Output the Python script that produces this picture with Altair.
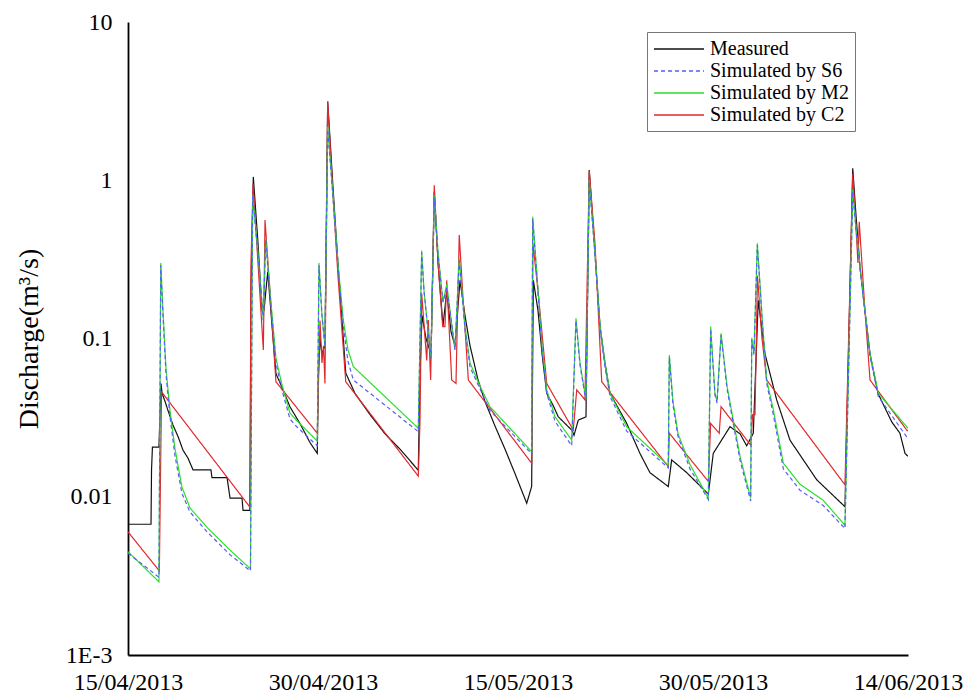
import altair as alt
import pandas as pd

START = "2013-04-15"

series_names = ["Measured", "Simulated by S6", "Simulated by M2", "Simulated by C2"]
series_colors = ["#111111", "#5a5aff", "#2adf2a", "#e0282d"]

measured_day = [0, 1.77, 1.81, 1.88, 2.38, 2.54, 2.62, 2.85, 3.08, 3.46, 3.85, 4.23, 4.62, 5.0,
                6.38, 6.46, 7.62, 7.85, 8.77, 8.85, 9.38, 9.46, 9.64, 10.0, 10.31, 10.46, 10.75,
                11.08, 11.38, 11.82, 12.46, 13.23, 14.0, 14.56, 14.65, 14.77, 14.92, 15.15, 15.36,
                15.77, 16.15, 16.75, 17.46, 18.62, 19.77, 20.92, 22.33, 22.46, 22.62, 22.92, 23.31,
                23.56, 23.85, 24.23, 24.52, 24.85, 25.15, 25.54, 25.92, 26.31, 26.92, 27.46, 28.23,
                29.0, 29.77, 30.67, 31.05, 31.18, 31.54, 31.85, 32.21, 32.72, 33.1, 34.13, 34.31,
                34.64, 35.23, 35.48, 35.92, 36.31, 36.69, 37.08, 38.36, 39.38, 40.15, 41.56, 41.82,
                42.98, 44.64, 45.02, 45.54, 46.31, 47.08, 47.59, 48.1, 48.48, 49.0, 49.9, 50.92,
                52.98, 55.15, 55.75, 56.0, 56.31, 56.69, 57.08, 57.69, 58.75, 59.38, 59.77, 60.0]
measured_q = [0.0067, 0.0067, 0.0148, 0.0206, 0.0206, 0.052, 0.045, 0.04, 0.035, 0.0284, 0.024,
              0.0197, 0.0175, 0.0148, 0.0148, 0.0132, 0.0132, 0.0098, 0.0098, 0.0082, 0.0082, 0.2,
              1.05, 0.4, 0.15, 0.15, 0.264, 0.12, 0.06, 0.0497, 0.037, 0.029, 0.022, 0.0188, 0.06,
              0.1, 0.08, 0.09, 3.15, 0.9, 0.3, 0.0605, 0.045, 0.033, 0.025, 0.02, 0.0147, 0.06,
              0.14, 0.1, 0.08, 0.85, 0.3, 0.12, 0.2, 0.11, 0.09, 0.233, 0.14, 0.09, 0.055, 0.04,
              0.028, 0.02, 0.014, 0.0091, 0.0116, 0.233, 0.15, 0.08, 0.045, 0.0375, 0.032, 0.0264,
              0.0245, 0.0305, 0.032, 1.16, 0.35, 0.12, 0.07, 0.045, 0.0291, 0.0188, 0.0142, 0.0116,
              0.0171, 0.0142, 0.0104, 0.0188, 0.022, 0.0277, 0.025, 0.021, 0.0252, 0.174, 0.08,
              0.0409, 0.0228, 0.0128, 0.00865, 1.19, 0.6, 0.28, 0.15, 0.08, 0.045, 0.0297, 0.0252,
              0.0188, 0.018]

m2_day = [0, 2.38, 2.52, 2.69, 2.92, 3.23, 3.62, 4.15, 4.77, 6.08, 7.85, 9.42, 9.59, 10.0, 10.41,
          10.59, 10.92, 11.38, 11.82, 12.46, 12.98, 14.56, 14.69, 14.92, 15.15, 15.36, 15.77, 16.15,
          16.56, 16.92, 17.33, 22.33, 22.59, 22.77, 23.0, 23.31, 23.56, 23.85, 24.23, 24.52, 24.77,
          25.15, 25.48, 25.92, 26.31, 27.08, 27.85, 31.05, 31.13, 31.46, 31.85, 32.21, 32.85, 34.13,
          34.46, 34.77, 35.23, 35.48, 35.92, 36.31, 36.69, 37.08, 38.36, 41.56, 41.64, 41.92, 42.31,
          43.23, 44.64, 44.82, 45.15, 45.31, 45.62, 46.08, 46.56, 47.08, 47.9, 47.98, 48.15, 48.41,
          48.77, 49.13, 49.64, 50.41, 51.69, 53.48, 55.15, 55.75, 56.0, 56.31, 56.69, 57.08, 57.72,
          59.9, 60.0]
m2_q = [0.0045, 0.0029, 0.30, 0.15, 0.065, 0.035, 0.02, 0.0115, 0.0085, 0.0064, 0.0046, 0.0035,
        0.81, 0.35, 0.131, 0.43, 0.2, 0.075, 0.052, 0.0338, 0.0303, 0.0225, 0.30, 0.14, 0.089, 2.18,
        0.8, 0.3, 0.131, 0.085, 0.0664, 0.0271, 0.36, 0.2, 0.13, 0.075, 0.8, 0.35, 0.17, 0.22, 0.15,
        0.085, 0.32, 0.12, 0.07, 0.05, 0.037, 0.0193, 0.589, 0.25, 0.09, 0.0474, 0.032, 0.0228,
        0.134, 0.07, 0.041, 1.0, 0.35, 0.12, 0.07, 0.045, 0.0277, 0.0158, 0.0787, 0.04, 0.025,
        0.016, 0.0098, 0.119, 0.045, 0.04, 0.108, 0.05, 0.0305, 0.018, 0.0098, 0.101, 0.081, 0.40,
        0.14, 0.0547, 0.0355, 0.0163, 0.012, 0.0095, 0.0066, 0.87, 0.5, 0.284, 0.15, 0.08, 0.045,
        0.0277, 0.027]

s6_day = m2_day
s6_q = [0.0044, 0.0031, 0.29, 0.14, 0.06, 0.032, 0.018, 0.0105, 0.008, 0.006, 0.0043, 0.0034,
        0.80, 0.34, 0.13, 0.42, 0.19, 0.07, 0.048, 0.031, 0.0277, 0.021, 0.29, 0.14, 0.089, 2.1,
        0.78, 0.28, 0.12, 0.072, 0.0547, 0.0258, 0.35, 0.2, 0.13, 0.075, 0.78, 0.34, 0.17, 0.21,
        0.15, 0.085, 0.31, 0.115, 0.066, 0.048, 0.035, 0.0187, 0.57, 0.24, 0.085, 0.045, 0.030,
        0.021, 0.13, 0.068, 0.04, 0.98, 0.34, 0.115, 0.066, 0.043, 0.026, 0.0152, 0.076, 0.038,
        0.024, 0.015, 0.0096, 0.115, 0.044, 0.039, 0.105, 0.048, 0.029, 0.017, 0.0094, 0.098,
        0.079, 0.39, 0.135, 0.052, 0.033, 0.015, 0.011, 0.0088, 0.0063, 0.85, 0.49, 0.28, 0.145,
        0.077, 0.043, 0.0239, 0.0235]

c2_day = [0, 2.41, 2.58, 9.38, 9.46, 9.62, 10.0, 10.41, 10.54, 10.92, 11.38, 14.56, 14.77, 14.92,
          15.04, 15.15, 15.36, 15.77, 16.15, 16.75, 22.33, 22.46, 22.59, 22.98, 23.1, 23.28, 23.56,
          23.85, 24.21, 24.38, 24.52, 24.9, 25.23, 25.48, 25.77, 26.18, 31.05, 31.15, 31.54, 32.21,
          34.25, 34.52, 35.15, 35.48, 35.92, 36.44, 41.56, 41.64, 44.64, 44.82, 45.48, 45.62, 47.9,
          48.05, 48.23, 48.42, 48.77, 49.13, 55.15, 55.75, 56.0, 56.15, 56.25, 56.69, 57.08, 59.9,
          60.0]
c2_q = [0.006, 0.0034, 0.046, 0.0086, 0.3, 0.95, 0.3, 0.0845, 0.56, 0.2, 0.0533, 0.0252, 0.13,
        0.07, 0.09, 0.052, 3.13, 0.8, 0.25, 0.0533, 0.0135, 0.03, 0.193, 0.0726, 0.131, 0.0547,
        0.93, 0.3, 0.119, 0.119, 0.233, 0.0547, 0.052, 0.45, 0.18, 0.0547, 0.0163, 0.4, 0.2, 0.052,
        0.0264, 0.0474, 0.041, 1.15, 0.4, 0.0533, 0.0155, 0.0252, 0.0125, 0.0291, 0.0252, 0.0371,
        0.0212, 0.033, 0.033, 0.25, 0.1, 0.0547, 0.0119, 1.1, 0.5, 0.3, 0.547, 0.15, 0.0547,
        0.0264, 0.026]

y_major = [0.001, 0.01, 0.1, 1, 10]

W, H = 780, 633
FONT = "Liberation Serif"
Y_TITLE = "Discharge(m³/s)"


def frame(days, q, name):
    t = pd.Timestamp(START) + pd.to_timedelta(days, unit="D")
    return pd.DataFrame({"date": t.strftime("%Y-%m-%dT%H:%M:%S"), "q": q, "series": name})


df = pd.concat([
    frame(measured_day, measured_q, "Measured"),
    frame(c2_day, c2_q, "Simulated by C2"),
    frame(m2_day, m2_q, "Simulated by M2"),
    frame(s6_day, s6_q, "Simulated by S6"),
], ignore_index=True)

x_scale = alt.Scale(domain=[alt.DateTime(year=2013, month=4, date=15),
                            alt.DateTime(year=2013, month=6, date=14)], nice=False)
y_scale = alt.Scale(type="log", domain=[0.001, 10], nice=False)
x_dt = [alt.DateTime(year=2013, month=4, date=15), alt.DateTime(year=2013, month=4, date=30),
        alt.DateTime(year=2013, month=5, date=15), alt.DateTime(year=2013, month=5, date=30),
        alt.DateTime(year=2013, month=6, date=14)]

x_axis = alt.Axis(values=x_dt, format="%d/%m/%Y", labelPadding=15, labelFlush=False,
                  grid=False, ticks=False)
y_axis = alt.Axis(values=y_major, grid=False, labelPadding=16, titlePadding=22, ticks=False,
                  labelExpr="datum.value < 0.005 ? '1E-3' : datum.value < 0.05 ? '0.01' : datum.value < 0.5 ? '0.1' : datum.value < 5 ? '1' : '10'")

chart = alt.Chart(df).mark_line(strokeWidth=1.2, clip=True).encode(
    x=alt.X("date:T", scale=x_scale, title=None, axis=x_axis),
    y=alt.Y("q:Q", scale=y_scale, title=Y_TITLE, axis=y_axis),
    color=alt.Color("series:N", scale=alt.Scale(domain=series_names, range=series_colors),
                    legend=alt.Legend(title=None)),
    strokeDash=alt.StrokeDash("series:N", scale=alt.Scale(domain=series_names,
                                                          range=[[1, 0], [4, 3], [1, 0], [1, 0]]),
                              legend=alt.Legend(title=None)),
).properties(
    width=W, height=H, padding={"left": 7, "top": 2, "right": 5, "bottom": 0}
).configure_view(stroke=None).configure_axis(
    domainColor="black", domainWidth=1.8,
    labelFont=FONT, labelFontSize=24, labelColor="black",
    titleFont=FONT, titleFontSize=28, titleFontWeight="normal", titleColor="black",
).configure_legend(
    orient="none", legendX=519, legendY=10, fillColor="white", strokeColor="#777777",
    padding=6, labelFont=FONT, labelFontSize=20, labelColor="black",
    symbolType="M-2.5,0H2.5", symbolSize=400, symbolStrokeWidth=1.4, symbolOffset=15,
    rowPadding=1, labelOffset=20, cornerRadius=0,
)

chart.save("out.html", embed_options={"renderer": "svg", "actions": False})
